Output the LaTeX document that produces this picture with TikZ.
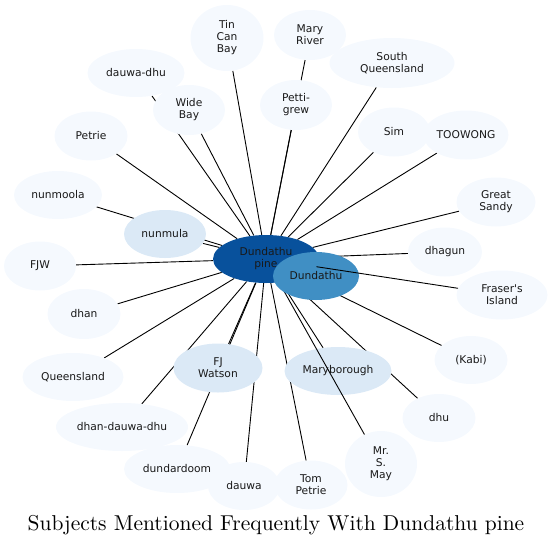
\documentclass[tikz,border=0pt]{standalone}
\usepackage{fontspec}
\newfontfamily\labfont{DejaVu Sans}
\newfontfamily\titlefont{lmroman10-regular.otf}
\usetikzlibrary{shapes.geometric}
\definecolor{cpale}{RGB}{245,249,254}
\definecolor{clight}{RGB}{219,233,246}
\definecolor{cmid}{RGB}{64,143,196}
\definecolor{cdark}{RGB}{8,81,156}
\pgfdeclarelayer{bg}
\pgfdeclarelayer{mid}
\pgfdeclarelayer{upper}
\pgfdeclarelayer{top}
\pgfsetlayers{bg,main,mid,upper,top}
\tikzset{
  nd/.style={ellipse, inner sep=0pt, align=center, font=\labfont\fontsize{10.7}{12}\selectfont, text=black!90},
  leaf/.style={nd, fill=cpale},
  hub/.style={nd, fill=clight},
  link/.style={draw=black, line width=0.9pt},
}
\begin{document}
\begin{tikzpicture}[x=1pt,y=-1pt]
\useasboundingbox (0,0) rectangle (554,547);
\node[nd, fill=cdark, minimum width=106pt, minimum height=48pt] (c) at (266,259) {Dundathu\\pine};
\node[leaf, minimum width=73pt, minimum height=66pt] (tcb) at (227,38) {Tin\\Can\\Bay};
\node[leaf, minimum width=125pt, minimum height=50pt] (sq) at (392,63) {South\\Queensland};
\node[leaf, minimum width=72pt, minimum height=50pt] (mr) at (310,35) {Mary\\River};
\node[leaf, minimum width=97pt, minimum height=48pt] (dd) at (136,73) {dauwa-dhu};
\node[leaf, minimum width=72pt, minimum height=50pt] (wb) at (189,110) {Wide\\Bay};
\node[leaf, minimum width=72pt, minimum height=50pt] (pg) at (296,105) {Petti-\\grew};
\node[leaf, minimum width=73pt, minimum height=49pt] (pe) at (91,136) {Petrie};
\node[leaf, minimum width=72pt, minimum height=49pt] (sim) at (394,132) {Sim};
\node[leaf, minimum width=85pt, minimum height=49pt] (too) at (466,135) {TOOWONG};
\node[leaf, minimum width=88pt, minimum height=48pt] (nm) at (58,195) {nunmoola};
\node[leaf, minimum width=79pt, minimum height=49pt] (gs) at (496,202) {Great\\Sandy};
\node[hub, minimum width=82pt, minimum height=48pt] (nu) at (165,234) {nunmula};
\node[leaf, minimum width=74pt, minimum height=49pt] (dh) at (445,252) {dhagun};
\node[leaf, minimum width=72pt, minimum height=49pt] (fjw) at (40,266) {FJW};
\node[leaf, minimum width=91pt, minimum height=49pt] (fi) at (502,295) {Fraser's\\Island};
\node[leaf, minimum width=73pt, minimum height=50pt] (dhan) at (84,314) {dhan};
\node[leaf, minimum width=101pt, minimum height=48pt] (ql) at (73,377) {Queensland};
\node[hub, minimum width=89pt, minimum height=49pt] (fjwat) at (218,368) {FJ\\Watson};
\node[hub, minimum width=107pt, minimum height=48pt] (mb) at (338,371) {Maryborough};
\node[leaf, minimum width=73pt, minimum height=48pt] (kabi) at (471,360) {(Kabi)};
\node[leaf, minimum width=73pt, minimum height=48pt] (dhu) at (439,418) {dhu};
\node[leaf, minimum width=132pt, minimum height=48pt] (ddd) at (122,427) {dhan-dauwa-dhu};
\node[leaf, minimum width=106pt, minimum height=48pt] (ddm) at (177,469) {dundardoom};
\node[leaf, minimum width=72pt, minimum height=48pt] (dauwa) at (244,486) {dauwa};
\node[leaf, minimum width=73pt, minimum height=49pt] (tp) at (311,485) {Tom\\Petrie};
\node[leaf, minimum width=72pt, minimum height=66pt] (msm) at (381,464) {Mr.\\S.\\May};
\begin{pgfonlayer}{bg}
\foreach \t in {tcb,sq,mr,dd,wb,pg,pe,sim,too,nm,gs,nu,dh,fjw,dhan,ql,fjwat,mb,kabi,dhu,ddd,ddm,dauwa,tp}
  \draw[link] (c) -- (\t);
\end{pgfonlayer}
\begin{pgfonlayer}{mid}
\draw[link] (c) -- (msm);
\end{pgfonlayer}
\begin{pgfonlayer}{upper}
\node[nd, fill=cmid, minimum width=86pt, minimum height=48pt] (dun) at (316,276) {Dundathu};
\end{pgfonlayer}
\begin{pgfonlayer}{top}
\draw[link] (c) -- (fi);
\end{pgfonlayer}
\node[font=\titlefont\fontsize{21.5}{24}\selectfont] (title) at (276,525) {Subjects Mentioned Frequently With Dundathu pine};
\end{tikzpicture}
\end{document}
